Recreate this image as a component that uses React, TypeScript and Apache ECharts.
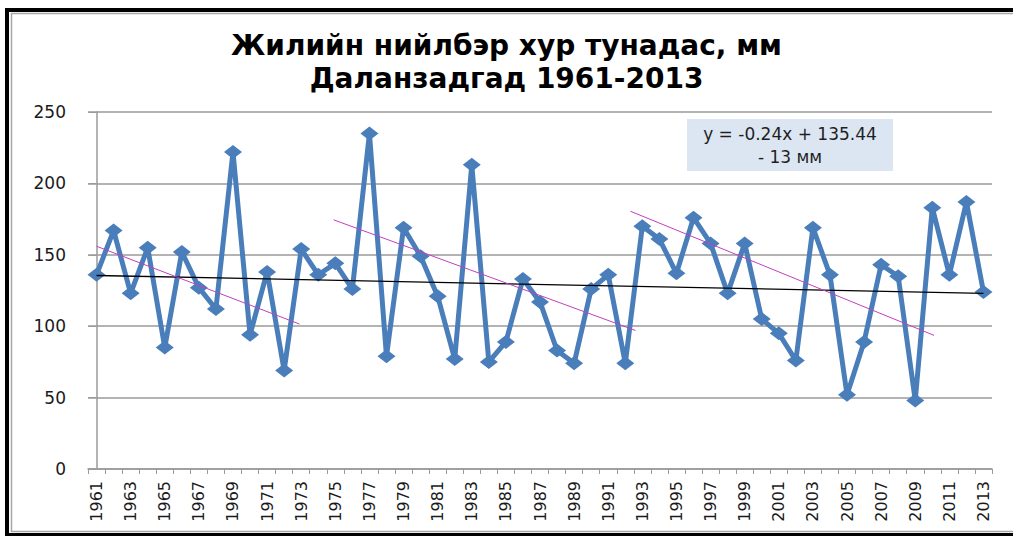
import React, { useEffect, useRef } from "react";
import * as echarts from "echarts";

const years: string[] = [
  "1961","1962","1963","1964","1965","1966","1967","1968","1969","1970",
  "1971","1972","1973","1974","1975","1976","1977","1978","1979","1980",
  "1981","1982","1983","1984","1985","1986","1987","1988","1989","1990",
  "1991","1992","1993","1994","1995","1996","1997","1998","1999","2000",
  "2001","2002","2003","2004","2005","2006","2007","2008","2009","2010",
  "2011","2012","2013",
];

const precipitation: number[] = [
  136, 167, 123, 155, 85, 152, 127, 112, 222, 94,
  138, 69, 154, 136, 144, 126, 235, 79, 169, 149,
  121, 77, 213, 75, 89, 133, 117, 83, 74, 126,
  136, 74, 170, 161, 137, 176, 158, 123, 158, 105,
  95, 76, 169, 136, 52, 89, 143, 135, 48, 183,
  136, 187, 124,
];

// trend lines, [category index, value]
const trendAll: number[][] = [[0, 135.5], [52, 123]];
const trendPeriod1: number[][] = [[0, 156], [11.9, 101.5]];
const trendPeriod2: number[][] = [[13.9, 174.5], [31.6, 97]];
const trendPeriod3: number[][] = [[31.3, 180.5], [49.1, 93.6]];

const yTicks = { min: 0, max: 250, interval: 50 };

const titleLines = ["Жилийн нийлбэр хур тунадас, мм", "Даланзадгад 1961-2013"];
const equationLines = ["y = -0.24x + 135.44", "- 13 мм"];

export default function App() {
  const ref = useRef<HTMLDivElement>(null);
  useEffect(() => {
    if (!ref.current) return;
    const chart = echarts.init(ref.current, null, { renderer: "svg" });
    const font = "DejaVu Sans";
    const gray = "#9a9a9a";
    chart.setOption({
      animation: false,
      backgroundColor: "#ffffff",
      title: {
        text: titleLines.join("\n"),
        left: "center",
        top: 24,
        textStyle: {
          fontFamily: font,
          fontWeight: "bold",
          fontSize: 28,
          lineHeight: 33,
          color: "#000000",
        },
      },
      grid: { left: 88, right: 21, top: 112, bottom: 67, containLabel: false },
      xAxis: [
        {
          type: "category",
          data: years,
          boundaryGap: true,
          axisLine: { lineStyle: { color: gray, width: 1.5 } },
          axisTick: { show: true, interval: 0, length: 5, lineStyle: { color: gray } },
          axisLabel: {
            interval: 1,
            rotate: 90,
            margin: 12,
            fontFamily: font,
            fontSize: 16,
            color: "#1a1a1a",
          },
          splitLine: { show: false },
        },
        {
          type: "value",
          min: -0.5,
          max: 52.5,
          show: false,
        },
      ],
      yAxis: {
        type: "value",
        min: yTicks.min,
        max: yTicks.max,
        interval: yTicks.interval,
        axisLine: { show: true, lineStyle: { color: gray, width: 1.5 } },
        axisTick: { show: true, length: 8, lineStyle: { color: gray } },
        axisLabel: {
          fontFamily: font,
          fontSize: 17,
          color: "#1a1a1a",
          margin: 22,
        },
        splitLine: { show: true, lineStyle: { color: gray, width: 1.5 } },
      },
      series: [
        {
          type: "line",
          data: precipitation,
          xAxisIndex: 0,
          symbol: "diamond",
          symbolSize: [18, 14],
          showAllSymbol: true,
          lineStyle: { color: "#4a7ebb", width: 5 },
          itemStyle: { color: "#4a7ebb" },
          z: 2,
        },
        {
          type: "line",
          xAxisIndex: 1,
          data: trendAll,
          symbol: "none",
          lineStyle: { color: "#000000", width: 1.3 },
          z: 3,
        },
        {
          type: "line",
          xAxisIndex: 1,
          data: trendPeriod1,
          symbol: "none",
          lineStyle: { color: "#c040c0", width: 1 },
          z: 3,
        },
        {
          type: "line",
          xAxisIndex: 1,
          data: trendPeriod2,
          symbol: "none",
          lineStyle: { color: "#c040c0", width: 1 },
          z: 3,
        },
        {
          type: "line",
          xAxisIndex: 1,
          data: trendPeriod3,
          symbol: "none",
          lineStyle: { color: "#c040c0", width: 1 },
          z: 3,
        },
      ],
      graphic: [
        {
          type: "rect",
          shape: { x: 7, y: 10, width: 1030, height: 525 },
          style: { fill: "none", stroke: "#000000", lineWidth: 4 },
          silent: true,
        },
        {
          type: "rect",
          shape: { x: 11.5, y: 13.5, width: 1020, height: 518 },
          style: { fill: "none", stroke: "#a6a6a6", lineWidth: 1.5 },
          silent: true,
        },
        {
          type: "rect",
          shape: { x: 687, y: 119, width: 206, height: 52 },
          style: { fill: "#dce6f2" },
          z: 10,
        },
        {
          type: "text",
          x: 790,
          y: 134,
          style: {
            text: equationLines[0],
            fontFamily: font,
            fontSize: 17,
            fill: "#1f1f1f",
            align: "center",
            verticalAlign: "middle",
          },
          z: 11,
        },
        {
          type: "text",
          x: 790,
          y: 157,
          style: {
            text: equationLines[1],
            fontFamily: font,
            fontSize: 17,
            fill: "#1f1f1f",
            align: "center",
            verticalAlign: "middle",
          },
          z: 11,
        },
      ],
    });
    return () => chart.dispose();
  }, []);
  return (
    <div
      ref={ref}
      style={{ position: "fixed", left: 0, top: 0, width: 1013, height: 536 }}
    />
  );
}
